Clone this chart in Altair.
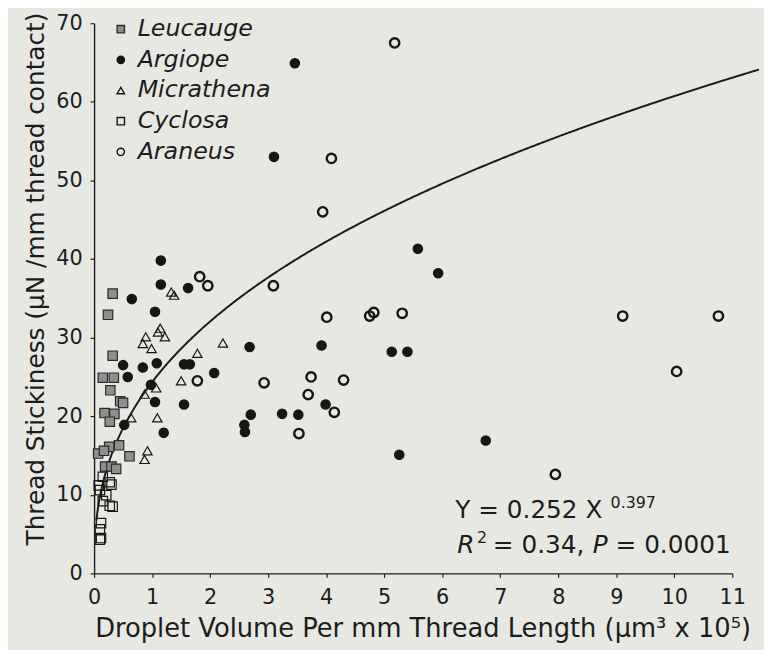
import altair as alt
import pandas as pd

# ---------------- data ----------------
SPECIES = ["Leucauge", "Argiope", "Micrathena", "Cyclosa", "Araneus"]

leucauge_x = [0.32, 0.24, 0.32, 0.15, 0.34, 0.28, 0.45, 0.50, 0.18, 0.35, 0.27,
              0.43, 0.26, 0.07, 0.17, 0.61, 0.19, 0.30, 0.38]
leucauge_y = [35.6, 32.9, 27.7, 24.9, 24.9, 23.3, 21.9, 21.7, 20.4, 20.3, 19.3,
              16.3, 16.1, 15.25, 15.6, 14.9, 13.6, 13.6, 13.3]

argiope_x = [3.46, 3.10, 5.58, 5.93, 1.15, 1.15, 1.62, 0.65, 1.05, 3.92, 2.68,
             5.13, 5.40, 0.50, 0.84, 1.08, 1.55, 1.65, 2.07, 0.58, 0.98, 1.05,
             1.55, 3.99, 2.70, 3.24, 3.52, 0.52, 1.20, 2.59, 2.60, 6.75, 5.26]
argiope_y = [64.9, 53.0, 41.3, 38.2, 39.8, 36.75, 36.3, 34.9, 33.3, 29.0, 28.8,
             28.2, 28.2, 26.5, 26.2, 26.75, 26.6, 26.6, 25.5, 25.0, 24.0, 21.8,
             21.5, 21.5, 20.2, 20.3, 20.2, 18.9, 17.9, 18.9, 18.0, 16.9, 15.1]

micrathena_x = [1.33, 1.38, 1.14, 1.22, 1.10, 0.89, 0.84, 0.99, 1.78, 2.22, 1.50,
                1.07, 0.87, 0.64, 1.09, 0.92, 0.87]
micrathena_y = [35.8, 35.4, 31.2, 30.1, 30.7, 30.1, 29.25, 28.6, 28.0, 29.3, 24.5,
                23.6, 22.8, 19.8, 19.8, 15.6, 14.5]

cyclosa_x = [0.15, 0.27, 0.08, 0.30, 0.21, 0.10, 0.15, 0.27, 0.32, 0.12, 0.10, 0.10, 0.12]
cyclosa_y = [12.3, 11.6, 11.2, 11.3, 9.96, 10.6, 9.2, 8.6, 8.5, 6.4, 5.6, 4.3, 4.5]

araneus_x = [5.18, 4.09, 3.94, 1.82, 1.96, 3.09, 4.01, 4.82, 4.75, 5.31, 9.11,
             10.76, 10.04, 3.74, 4.30, 1.78, 2.93, 3.69, 4.14, 3.53, 7.95]
araneus_y = [67.5, 52.8, 46.0, 37.75, 36.6, 36.6, 32.6, 33.2, 32.75, 33.1, 32.75,
             32.75, 25.7, 25.0, 24.6, 24.5, 24.25, 22.75, 20.5, 17.8, 12.6]

# fitted power curve shown in the figure: Y = 0.252 X^0.397 (X in um^3, axis in 1e5 um^3)
FIT_A = 0.252
FIT_B = 0.397
X_UNIT = 1e5
FIT_START, FIT_STOP, FIT_STEP = 0.04, 11.46, 0.02

X_TICKS = [0, 0.5, 1, 1.5, 2, 2.5, 3, 3.5, 4, 4.5, 5, 5.5, 6, 6.5, 7, 7.5, 8, 8.5,
           9, 9.5, 10, 10.5, 11]
Y_TICKS = [0, 5, 10, 15, 20, 25, 30, 35, 40, 45, 50, 55, 60, 65, 70]

# ---------------- styling ----------------
SHAPES = ["square", "circle", "triangle-up", "square", "circle"]
FILLS = ["#8f8f8f", "#161616", "transparent", "transparent", "transparent"]
STROKES = ["#2a2a2a", "#161616", "#161616", "#161616", "#161616"]
BG = "#e8e8e3"
INK = "#1c1c1c"
FONT = "DejaVu Sans"

rows = []
for name, xs, ys in [("Leucauge", leucauge_x, leucauge_y),
                     ("Argiope", argiope_x, argiope_y),
                     ("Micrathena", micrathena_x, micrathena_y),
                     ("Cyclosa", cyclosa_x, cyclosa_y),
                     ("Araneus", araneus_x, araneus_y)]:
    for xv, yv in zip(xs, ys):
        rows.append({"species": name, "x": xv, "y": yv})
df = pd.DataFrame(rows)

x_scale = alt.Scale(domain=[0, 11], nice=False, zero=False)
y_scale = alt.Scale(domain=[0, 70], nice=False)

x_axis = alt.Axis(values=X_TICKS,
                  labelExpr="datum.value % 1 ? '' : format(datum.value, 'd')",
                  title="Droplet Volume Per mm Thread Length (μm³ x 10⁵)",
                  titleX=332, titleY=56, titleBaseline="middle", titleAlign="center",
                  titleFontSize=26,
                  grid=False, tickSize=4, labelPadding=9, labelFlush=False,
                  labelOverlap=False)
y_axis = alt.Axis(values=Y_TICKS,
                  labelExpr="datum.value % 10 ? '' : format(datum.value, 'd')",
                  title="Thread Stickiness (μN /mm thread contact)",
                  titleX=-46, titleY=258, titleAlign="center", titleBaseline="bottom",
                  titleFontSize=25,
                  grid=False, tickSize=4, labelPadding=8, labelOverlap=False)

legend = alt.Legend(orient="none", legendX=15, legendY=-6, title=None,
                    labelFont=FONT, labelFontSize=24, labelFontStyle="italic",
                    labelColor=INK, symbolSize=55, symbolStrokeWidth=1.4,
                    rowPadding=7, labelOffset=5, padding=0)

points = alt.Chart(df).mark_point(filled=True, size=90, opacity=1).encode(
    x=alt.X("x:Q", scale=x_scale, axis=x_axis),
    y=alt.Y("y:Q", scale=y_scale, axis=y_axis),
    shape=alt.Shape("species:N", scale=alt.Scale(domain=SPECIES, range=SHAPES), legend=legend),
    fill=alt.Fill("species:N", scale=alt.Scale(domain=SPECIES, range=FILLS), legend=legend),
    stroke=alt.Stroke("species:N", scale=alt.Scale(domain=SPECIES, range=STROKES), legend=legend),
    strokeWidth=alt.when(alt.datum.species == "Araneus").then(alt.value(2.4)).otherwise(alt.value(1.2)),
)

curve = alt.Chart(alt.SequenceGenerator(sequence=alt.SequenceParams(
    start=FIT_START, stop=FIT_STOP, step=FIT_STEP, **{"as": "x"}))).transform_calculate(
    y=f"{FIT_A} * pow(datum.x * {X_UNIT}, {FIT_B})"
).mark_line(color=INK, strokeWidth=2).encode(
    x=alt.X("x:Q", scale=x_scale),
    y=alt.Y("y:Q", scale=y_scale),
)


def label(text, px, py, size=25, style="normal", align="left"):
    return alt.Chart(pd.DataFrame({"t": [text]})).mark_text(
        align=align, baseline="middle", font=FONT, fontSize=size, fontStyle=style,
        color=INK).encode(x=alt.value(px), y=alt.value(py), text="t:N")


texts = [
    label("Y = 0.252 X", 365, 492),
    label("0.397", 522, 485, size=16),
    label("R", 367, 527, style="italic"),
    label("2", 387, 520, size=16),
    label("= 0.34,", 403, 527),
    label("P", 504, 527, style="italic"),
    label("= 0.0001", 527, 527),
]

chart = alt.layer(curve, points, *texts).properties(
    width=645, height=556,
    background=BG,
    autosize=alt.AutoSizeParams(type="none"),
    padding={"left": 87, "top": 12, "right": 32, "bottom": 74},
).configure_view(stroke=None).configure_axis(
    labelFont=FONT, titleFont=FONT, labelFontSize=21, titleFontSize=25,
    labelColor=INK, titleColor=INK, domainColor=INK, tickColor=INK,
    domainWidth=1.4, tickWidth=1.2, titleFontWeight="normal",
)

chart.save("out.html", embed_options={"renderer": "svg", "actions": False})
